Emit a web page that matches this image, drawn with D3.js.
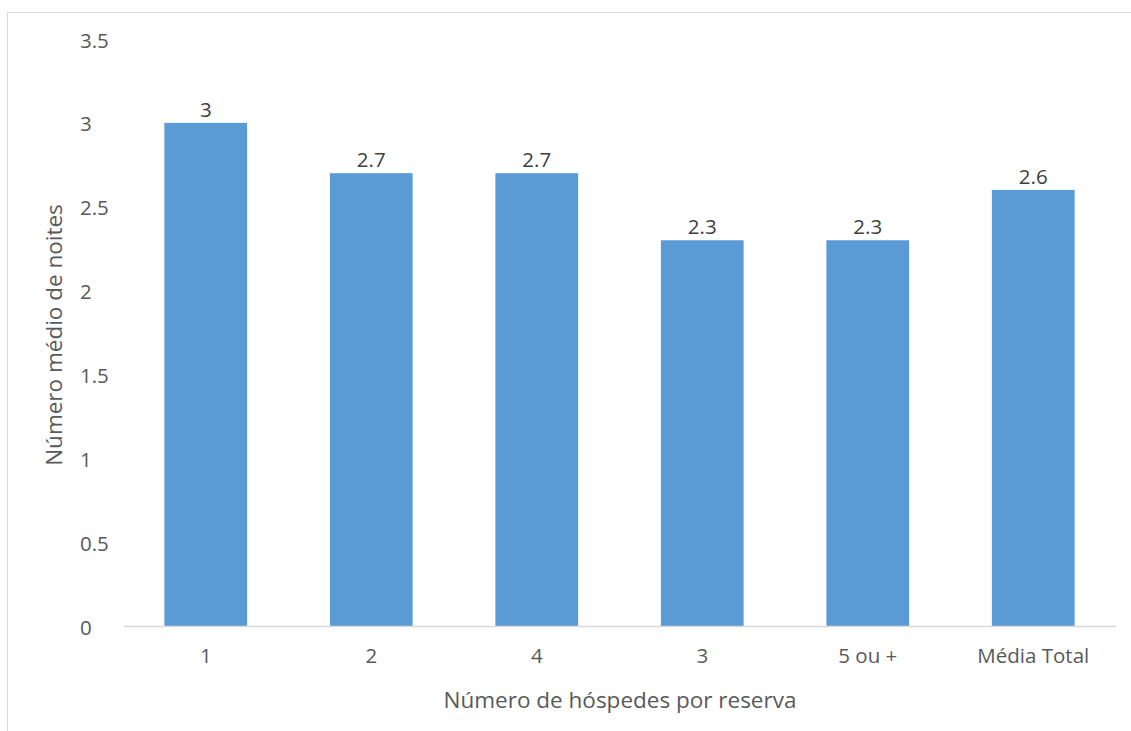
<!DOCTYPE html>
<html>
<head>
<meta charset="utf-8">
<script src="https://cdn.jsdelivr.net/npm/d3@7"></script>
<style>
  html, body { margin: 0; padding: 0; background: #fff; }
  svg { display: block; }
  text { font-family: "Open Sans", "Noto Sans", sans-serif; fill: #595959; }
</style>
</head>
<body>
<svg id="chart" width="1131" height="731"></svg>
<script>
// Average nights per booking, by number of guests
const categories = ["1", "2", "4", "3", "5 ou +", "Média Total"];
const nights = [3, 2.7, 2.7, 2.3, 2.3, 2.6];
const yTicks = [0, 0.5, 1, 1.5, 2, 2.5, 3, 3.5];
const xTitle = "Número de hóspedes por reserva";
const yTitle = "Número médio de noites";

const svg = d3.select("#chart");
const W = 1131, H = 731;
const plot = { left: 123, right: 1116, top: 39, bottom: 626 };
const tickFont = "20.5px";
const titleFont = "22.5px";

// chart frame
svg.append("rect")
  .attr("x", 7.5).attr("y", 12.5)
  .attr("width", W + 20).attr("height", H + 20)
  .attr("fill", "#fff").attr("stroke", "#d9d9d9");

const x = d3.scaleBand()
  .domain(categories)
  .range([plot.left, plot.right])
  .paddingInner(0.5).paddingOuter(0.25);

const y = d3.scaleLinear().domain([0, 3.5]).range([plot.bottom, plot.top]);

// y tick labels (no axis line)
svg.append("g").selectAll("text")
  .data(yTicks).join("text")
  .attr("x", 80)
  .attr("y", d => y(d))
  .attr("dy", "0.42em")
  .attr("text-anchor", "start")
  .style("font-size", tickFont)
  .text(d => d);

// bars
svg.append("g").selectAll("rect")
  .data(categories).join("rect")
  .attr("x", d => x(d))
  .attr("y", (d, i) => y(nights[i]))
  .attr("width", x.bandwidth())
  .attr("height", (d, i) => y(0) - y(nights[i]))
  .attr("fill", "#5b9bd5");

// value labels
svg.append("g").selectAll("text")
  .data(categories).join("text")
  .attr("x", d => x(d) + x.bandwidth() / 2)
  .attr("y", (d, i) => y(nights[i]) - 6)
  .attr("text-anchor", "middle")
  .style("font-size", tickFont)
  .style("fill", "#404040")
  .text((d, i) => nights[i]);

// x axis
const xAxis = d3.axisBottom(x).tickSize(0).tickPadding(22);
const gx = svg.append("g")
  .attr("transform", `translate(0,${plot.bottom})`)
  .call(xAxis);
gx.select(".domain").attr("stroke", "#d9d9d9").attr("stroke-width", 1.5);
gx.selectAll("text")
  .style("font-size", tickFont)
  .style("font-family", "\"Open Sans\", \"Noto Sans\", sans-serif")
  .attr("fill", "#595959");

// axis titles
svg.append("text")
  .attr("x", 620)
  .attr("y", 708)
  .attr("text-anchor", "middle")
  .style("font-size", titleFont)
  .text(xTitle);

svg.append("text")
  .attr("transform", `translate(62,335) rotate(-90)`)
  .attr("text-anchor", "middle")
  .style("font-size", titleFont)
  .text(yTitle);
</script>
</body>
</html>
